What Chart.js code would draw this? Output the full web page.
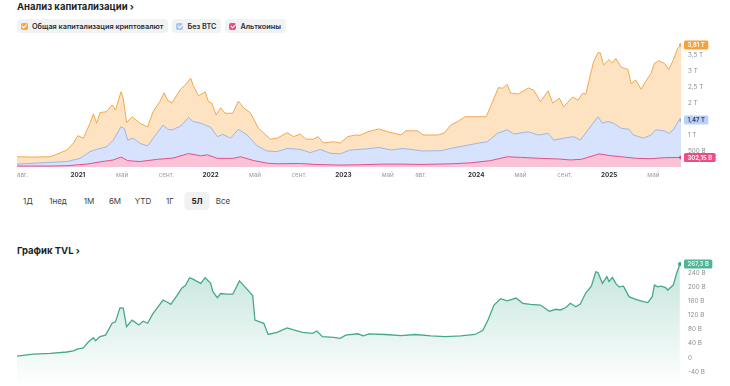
<!DOCTYPE html>
<html lang="ru">
<head>
<meta charset="utf-8">
<script src="https://cdn.jsdelivr.net/npm/chart.js@4.4.1/dist/chart.umd.min.js"></script>
<style>
    html, body { margin: 0; padding: 0; width: 730px; height: 386px; overflow: hidden; background: #fff;
                 font-family: Inter, 'Noto Sans', sans-serif; }
    .title  { position: absolute; left: 17px; font-size: 9.5px; font-weight: 700; color: #1d1f23; line-height: 12px; }
    .chips  { position: absolute; left: 17px; top: 19px; display: flex; gap: 4px; }
    .chip   { height: 14px; background: #f1f2f4; border-radius: 4px; display: flex; align-items: center;
              padding: 0 5px 0 4px; font-size: 7.3px; font-weight: 600; color: #2b2d31; }
    .box    { width: 7px; height: 7px; border-radius: 2px; margin-right: 4px; position: relative; }
    .box::after { content: ''; position: absolute; left: 2.2px; top: 0.6px; width: 1.6px; height: 3.6px;
                  border: solid #fff; border-width: 0 1px 1px 0; transform: rotate(45deg); }
    .range  { position: absolute; top: 195px; transform: translateX(-50%); font-size: 8px; color: #3d3f44; line-height: 12px; }
    .range.on { background: #f0f1f3; border-radius: 4px; padding: 3px 7px; top: 192px; font-weight: 700; color: #1d1f23; }
    canvas  { position: absolute; left: 0; }
</style>
</head>
<body>

<div class="title" style="top:1px">Анализ капитализации ›</div>
<div class="chips">
    <div class="chip"><span class="box" style="background:#f5a742"></span>Общая капитализация криптовалют</div>
    <div class="chip"><span class="box" style="background:#a9c3f5"></span>Без BTC</div>
    <div class="chip"><span class="box" style="background:#ea4c87"></span>Альткоины</div>
</div>

<canvas id="capChart" width="730" height="150" style="top:36px"></canvas>

<div id="ranges"></div>

<div class="title" style="top:245px">График TVL ›</div>
<canvas id="tvlChart" width="730" height="130" style="top:256px"></canvas>

<script>
// ось времени: месяцы от середины июля 2020
const tickMonths = [0.5, 5.5, 9.5, 13.5, 17.5, 21.5, 25.5, 29.5, 33.5, 36.5, 41.5, 45.5, 49.5, 53.5, 57.5];
const tickLabels = ['авг.', '2021', 'май', 'сент.', '2022', 'май', 'сент.', '2023', 'май', 'авг.', '2024', 'май', 'сент.', '2025', 'май'];

// капитализация, трлн $
const totalMonths = [0,1.45,3.0,3.9,4.5,5.1,5.5,6.0,6.6,6.9,7.2,7.5,8.1,8.6,8.9,9.4,9.6,9.9,10.4,11.1,11.8,12.3,12.9,13.3,13.6,14.0,14.8,15.2,15.7,15.9,16.4,17.0,17.3,17.6,18.0,18.4,18.8,19.5,20.0,20.5,21.1,21.8,22.3,22.9,23.5,24.4,25.0,25.6,26.1,26.8,27.2,27.7,28.6,29.2,29.9,30.6,31.0,31.7,32.7,33.5,34.0,34.7,35.1,36.2,36.7,38.0,38.6,39.2,39.8,40.5,41.6,42.4,42.8,43.5,43.9,44.3,44.6,45.3,46.2,46.7,47.3,48.0,48.4,49.0,49.4,50.2,50.7,51.1,51.4,51.7,52.1,52.5,52.7,53.0,53.5,53.8,54.1,54.6,55.2,55.5,55.9,56.4,56.8,57.3,57.6,58.0,58.5,58.9,59.3,59.7,60];
const totalCap    = [0.32,0.31,0.32,0.44,0.53,0.75,0.98,0.9,1.37,1.66,1.37,1.7,1.73,1.94,1.78,2.35,2.15,1.39,1.57,1.37,1.25,1.73,2.04,2.32,2.09,2.0,2.44,2.56,2.78,2.56,2.22,2.35,2.04,2.0,1.63,1.85,1.68,1.68,2.06,1.84,1.69,1.22,1.06,0.87,0.9,1.07,0.95,1.03,0.87,0.87,0.95,0.75,0.79,0.75,0.95,1.0,0.99,1.1,1.19,1.1,1.06,1.0,1.13,1.13,1.0,1.0,1.06,1.31,1.42,1.57,1.57,1.57,1.9,2.48,2.46,2.58,2.31,2.28,2.47,2.4,2.04,2.38,2.0,2.15,1.88,2.19,2.09,2.3,2.28,2.72,3.29,3.57,3.57,3.19,3.36,3.25,3.4,3.12,3.05,2.6,2.72,2.43,2.67,2.93,3.24,3.32,3.24,3.05,3.34,3.71,3.81];

const noBtcMonths = [0,4.5,5.7,6.6,7.2,8.1,8.7,9.4,9.7,10.0,10.5,11.1,11.8,12.3,13.2,13.6,14.0,14.8,15.5,15.9,16.6,17.5,18.1,18.6,19.3,20.0,20.8,21.7,22.6,23.5,24.4,25.6,26.5,27.4,28.3,29.2,30.1,31.7,32.7,33.8,34.9,36.7,38.3,39.2,40.4,41.6,42.5,43.4,44.3,44.9,46.2,47.1,48.0,48.5,49.4,50.3,50.9,51.6,52.5,52.9,53.4,53.9,54.6,55.3,55.7,56.6,57.3,57.7,58.5,58.9,59.3,59.8,60];
const noBtcCap    = [0.09,0.17,0.27,0.48,0.55,0.63,0.84,1.26,1.2,0.84,0.9,0.74,0.66,0.9,1.31,1.18,1.16,1.28,1.55,1.42,1.37,1.24,0.95,1.02,0.9,1.18,1.0,0.66,0.5,0.48,0.58,0.55,0.45,0.55,0.43,0.41,0.53,0.57,0.61,0.53,0.58,0.5,0.51,0.58,0.66,0.74,0.79,1.05,1.16,1.03,1.1,1.0,1.05,0.84,0.9,0.95,0.84,1.16,1.57,1.37,1.42,1.37,1.21,1.18,1.0,0.9,1.0,1.16,1.13,1.05,1.16,1.45,1.47];

const altMonths = [0,3.0,4.5,6.3,7.5,8.7,9.4,10.0,11.1,12.7,14.1,15.5,16.6,17.2,18.1,19.5,20.2,21.4,22.6,23.5,25.6,27.0,29.2,31.0,33.0,34.7,36.5,39.2,41.0,42.8,44.3,45.5,47.3,49.0,50.0,51.0,52.6,53.5,54.6,56.0,57.3,58.5,60];
const altCap    = [0.03,0.03,0.04,0.09,0.16,0.22,0.31,0.2,0.17,0.24,0.28,0.42,0.35,0.38,0.27,0.27,0.32,0.2,0.12,0.1,0.11,0.08,0.06,0.07,0.09,0.09,0.08,0.1,0.13,0.2,0.32,0.3,0.27,0.25,0.22,0.24,0.41,0.36,0.32,0.27,0.26,0.29,0.3];

const capTickValues = [0.5, 1, 1.5, 2, 2.5, 3, 3.5];
const capTags = { total: '3,81 T', noBtc: '1,47 T', alt: '302,15 B' };

// TVL, млрд $
const tvlMonths = [0,1.45,3.0,4.5,5.1,5.5,6.0,6.4,6.9,7.1,7.5,8.0,8.6,8.9,9.3,9.6,9.9,10.4,11.0,11.4,11.8,12.3,13.2,13.6,13.9,14.5,14.9,15.2,15.6,15.9,16.6,17.0,17.5,17.7,18.1,18.4,19.0,19.5,20.1,20.6,21.3,21.5,22.3,22.7,23.5,24.4,25.0,25.8,26.7,27.1,27.6,28.6,29.2,29.7,30.8,31.3,31.8,33.3,34.7,36.0,37.4,38.7,40.1,41.4,42.1,42.6,43.1,43.7,44.3,45.1,45.7,46.4,47.3,48.1,48.7,49.1,49.6,50.0,50.5,50.9,51.4,51.9,52.3,52.5,52.9,53.0,53.3,53.5,53.8,54.1,54.4,54.8,55.3,55.9,56.7,57.0,57.4,57.6,57.9,58.2,58.6,58.8,59.3,59.6,59.9];
const tvl       = [4,10,12,16,19,25,28,43,57,48,60,64,98,102,142,141,88,107,93,104,98,126,164,158,152,179,199,205,228,224,212,228,212,188,171,183,181,181,219,202,177,107,98,66,72,85,79,72,69,76,60,58,55,64,68,62,68,66,63,66,62,60,62,66,78,110,150,168,162,170,155,152,150,132,138,136,143,155,145,153,185,204,245,243,212,217,231,217,229,212,202,204,174,166,159,157,174,207,202,204,200,193,207,240,267];
const tvlTickValues = [-40, 0, 40, 80, 120, 160, 200, 240];
const tvlTag = '267,3 B';

const rangeLabels  = ['1Д', '1нед', '1М', '6М', 'YTD', '1Г', '5Л', 'Все'];
const rangeCenters = [28, 58, 89, 115, 143, 170, 197, 223];
const rangeActive  = '5Л';

// кнопки периода
document.getElementById('ranges').innerHTML = rangeLabels.map((r, i) =>
    `<span class="range${r === rangeActive ? ' on' : ''}" style="left:${rangeCenters[i]}px">${r}</span>`
).join('');

const pts = (xs, ys) => xs.map((x, i) => ({ x, y: ys[i] }));
const endDot = c => c.dataIndex === c.dataset.data.length - 1 ? 2 : 0;
const isYear = i => /^\d{4}$/.test(tickLabels[i] || '');

// плашки с последним значением справа
const endTags = {
    id: 'endTags',
    afterDatasetsDraw(chart) {
        const { ctx, chartArea } = chart;
        chart.data.datasets.forEach((ds, i) => {
            if (!ds.tag) return;
            const meta = chart.getDatasetMeta(i);
            const last = meta.data[meta.data.length - 1];
            ctx.save();
            ctx.font = '600 6px Inter, sans-serif';
            const w = ctx.measureText(ds.tag).width + 7;
            const x = chartArea.right + 3, y = last.y - 4.5;
            ctx.fillStyle = ds.tagBg;
            ctx.beginPath();
            ctx.roundRect(x, y, w, 9, 1.5);
            ctx.fill();
            ctx.fillStyle = ds.tagColor;
            ctx.textBaseline = 'middle';
            ctx.fillText(ds.tag, x + 3.5, last.y + 0.5);
            ctx.restore();
        });
    }
};

// без автоматических отступов от подписей
const noPad = s => { s.paddingTop = 0; s.paddingBottom = 0; s.paddingLeft = 0; s.paddingRight = 0; };

const xAxis = (showLabels) => ({
    type: 'linear', min: 0, max: 60, display: showLabels,
    grid: { display: false, drawTicks: false }, border: { display: false },
    afterBuildTicks: s => { s.ticks = tickMonths.map(v => ({ value: v })); },
    afterFit: s => { noPad(s); s.height = showLabels ? 19 : 0; },
    ticks: {
        autoSkip: false, maxRotation: 0, padding: 4,
        color: c => isYear(c.index) ? '#2f3136' : '#9a9ca0',
        font: c => ({ size: 6.3, weight: isYear(c.index) ? '700' : '400', family: 'Inter' }),
        callback: (v, i) => tickLabels[i]
    }
});

const yAxis = (min, max, values, fmt) => ({
    position: 'right', min, max,
    grid: { display: false, drawTicks: false }, border: { display: false },
    afterBuildTicks: s => { s.ticks = values.map(v => ({ value: v })); },
    afterFit: s => { noPad(s); s.width = 49; },
    ticks: { padding: 7, color: '#8d8f94', font: { size: 6.3, family: 'Inter' }, callback: fmt }
});

const capLabel = v => v < 1 ? (v * 1000) + ' B' : String(v).replace('.', ',') + ' T';

// график капитализации
new Chart(document.getElementById('capChart'), {
    type: 'line',
    data: {
        datasets: [
            { label: 'Альткоины', data: pts(altMonths, altCap), borderColor: '#e4508b', backgroundColor: '#f9c2d6',
              fill: 'origin', tag: capTags.alt, tagBg: '#ec4d87', tagColor: '#fff' },
            { label: 'Без BTC', data: pts(noBtcMonths, noBtcCap), borderColor: '#9fb6e6', backgroundColor: '#d7e3fc',
              fill: 'origin', tag: capTags.noBtc, tagBg: '#bcd0f7', tagColor: '#2a3a5c' },
            { label: 'Общая капитализация криптовалют', data: pts(totalMonths, totalCap), borderColor: '#f4a74b',
              backgroundColor: '#fee3c3', fill: 'origin', tag: capTags.total, tagBg: '#f4a23a', tagColor: '#fff' },
        ].map(d => ({ ...d, borderWidth: 1, tension: 0, pointRadius: endDot, pointHoverRadius: 0,
                      pointBackgroundColor: d.borderColor, pointBorderWidth: 0 }))
    },
    options: {
        responsive: false, animation: false,
        layout: { autoPadding: false, padding: { left: 17, top: 3, right: 0, bottom: 0 } },
        plugins: { legend: { display: false }, tooltip: { enabled: false } },
        scales: { x: xAxis(true), y: yAxis(0, 4, capTickValues, capLabel) }
    },
    plugins: [endTags]
});

// график TVL
new Chart(document.getElementById('tvlChart'), {
    type: 'line',
    data: {
        datasets: [{
            label: 'TVL', data: pts(tvlMonths, tvl), borderColor: '#45a88c', borderWidth: 1.3, tension: 0,
            fill: 'start',
            backgroundColor: c => {
                const { ctx, chartArea } = c.chart;
                if (!chartArea) return 'rgba(78,176,150,0.2)';
                const g = ctx.createLinearGradient(0, chartArea.top, 0, chartArea.bottom);
                g.addColorStop(0, 'rgba(78,176,150,0.34)');
                g.addColorStop(1, 'rgba(78,176,150,0)');
                return g;
            },
            pointRadius: endDot, pointHoverRadius: 0, pointBackgroundColor: '#45a88c', pointBorderWidth: 0,
            tag: tvlTag, tagBg: '#4fb598', tagColor: '#e9f7f2'
        }]
    },
    options: {
        responsive: false, animation: false,
        layout: { autoPadding: false, padding: { left: 17, top: 3.5, right: 0, bottom: 0 } },
        plugins: { legend: { display: false }, tooltip: { enabled: false } },
        scales: { x: xAxis(false), y: yAxis(-81, 280, tvlTickValues, v => v === 0 ? '0' : v + ' B') }
    },
    plugins: [endTags]
});
</script>
</body>
</html>
